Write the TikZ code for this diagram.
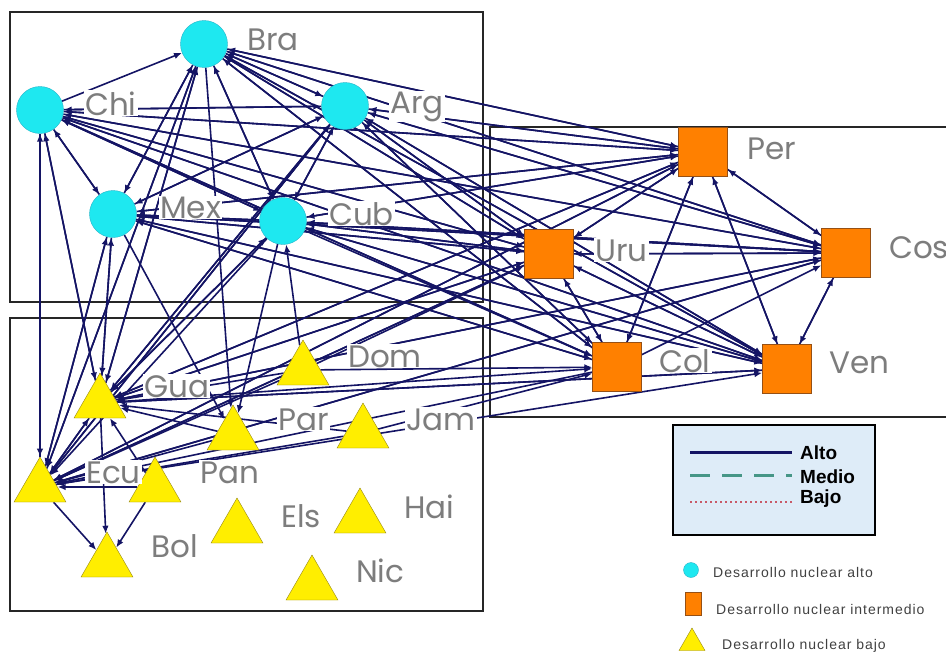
\documentclass[tikz,border=0pt]{standalone}
\usepackage{fontspec}
\setmainfont{Liberation Sans}
\newfontfamily\labfont{Poppins}
\newfontfamily\keyfont[LetterSpace=7]{Liberation Sans}
\usetikzlibrary{shapes.geometric,arrows.meta,backgrounds}
\definecolor{nodecyan}{RGB}{30,232,240}
\definecolor{cyanline}{RGB}{40,180,200}
\definecolor{nodeorange}{RGB}{255,128,0}
\definecolor{orangeline}{RGB}{150,80,20}
\definecolor{nodeyellow}{RGB}{255,238,0}
\definecolor{yellowline}{RGB}{150,135,20}
\definecolor{tiecolor}{RGB}{20,20,100}
\definecolor{labelgray}{RGB}{125,125,125}
\definecolor{keyfill}{RGB}{222,236,248}
\definecolor{keyteal}{RGB}{70,150,135}
\definecolor{keyred}{RGB}{200,90,105}
\begin{document}
\begin{tikzpicture}
    [x=1pt,y=-1pt,
    alto/.style={circle,draw=cyanline,fill=nodecyan,minimum size=47pt,inner sep=0pt},
    medio/.style={rectangle,draw=orangeline,fill=nodeorange,minimum size=49pt,inner sep=0pt},
    bajo/.style={regular polygon,regular polygon sides=3,draw=yellowline,fill=nodeyellow,minimum size=60pt,inner sep=0pt},
    lbl/.style={anchor=base west,fill=white,inner sep=1pt,text=labelgray,font=\labfont\fontsize{31}{31}\selectfont},
    tie/.style={draw=tiecolor,line width=1.6pt,-{Latex[length=8pt,width=6.5pt]}},
    box/.style={draw=black!85,line width=1.6pt},
    keytext/.style={anchor=base west,inner sep=0pt,font=\bfseries\fontsize{19}{19}\selectfont},
    desc/.style={anchor=base west,inner sep=0pt,text=black!75,font=\keyfont\fontsize{14}{14}\selectfont}]
    \useasboundingbox (0,0) rectangle (946,653);
    \node[alto] (bra) at (204,44) {};
    \node[alto] (chi) at (40,110) {};
    \node[alto] (arg) at (345,106) {};
    \node[alto] (mex) at (113,214) {};
    \node[alto] (cub) at (283,221) {};
    \node[medio] (per) at (703,152) {};
    \node[medio] (uru) at (549,254) {};
    \node[medio] (cos) at (846,253) {};
    \node[medio] (col) at (617,367) {};
    \node[medio] (ven) at (787,369) {};
    \node[bajo] (gua) at (100,403) {};
    \node[bajo] (dom) at (303,370) {};
    \node[bajo] (par) at (233,435) {};
    \node[bajo] (jam) at (363,433) {};
    \node[bajo] (ecu) at (40,487) {};
    \node[bajo] (pan) at (155,487) {};
    \node[bajo] (bol) at (107,562) {};
    \node[bajo] (els) at (237,528) {};
    \node[bajo] (hai) at (360,518) {};
    \node[bajo] (nic) at (312,585) {};
    \begin{pgfonlayer}{background}
      \draw[box] (10,12) rectangle (483,302);
      \draw[box] (10,318) rectangle (483,611);
      \draw[box] (490,127) rectangle (960,417);
      \foreach \a/\b in {chi/bra,chi/mex,mex/chi,chi/arg,chi/cub,bra/mex,bra/cub,bra/arg,
        arg/bra,arg/chi,arg/mex,arg/cub,mex/bra,mex/cub,mex/arg,cub/bra,cub/chi,cub/arg,cub/mex,
        chi/per,chi/uru,chi/cos,chi/ven,chi/col,bra/per,bra/uru,bra/cos,bra/ven,bra/col,
        arg/per,arg/uru,arg/cos,arg/ven,arg/col,mex/per,mex/uru,mex/cos,mex/ven,mex/col,
        cub/per,cub/uru,cub/cos,cub/ven,cub/col,
        per/chi,per/bra,per/arg,per/mex,per/cub,uru/chi,uru/bra,uru/arg,uru/mex,uru/cub,
        cos/chi,cos/bra,cos/arg,cos/mex,cos/cub,col/chi,col/bra,col/arg,col/mex,
        ven/chi,ven/bra,ven/arg,ven/cub,ven/mex,
        per/uru,uru/per,per/cos,cos/per,per/col,col/per,per/ven,ven/per,cos/ven,ven/cos,
        uru/cos,cos/uru,uru/col,col/uru,uru/ven,ven/uru,col/cos,
        gua/chi,gua/bra,gua/arg,gua/mex,gua/cub,gua/ecu,gua/bol,gua/per,gua/cos,gua/col,
        gua/uru,gua/ven,chi/gua,bra/gua,arg/gua,mex/gua,cub/gua,per/gua,uru/gua,ven/gua,
        ecu/chi,ecu/bra,ecu/arg,ecu/mex,ecu/bol,ecu/gua,ecu/per,ecu/cos,ecu/uru,ecu/ven,
        chi/ecu,bra/ecu,mex/ecu,arg/ecu,cub/ecu,cos/gua,per/ecu,uru/ecu,cos/ecu,col/ecu,
        par/ecu,par/gua,bra/par,mex/par,cub/par,pan/ecu,pan/bol,pan/gua,
        dom/ecu,dom/gua,dom/col,dom/cub,dom/uru,jam/col,jam/gua,jam/ecu}
        \draw[tie] (\a) -- (\b);
    \end{pgfonlayer}
    \node[lbl] (braL) at (246,50) {Bra};
    \node[lbl] (chiL) at (84,115) {Chi};
    \node[lbl] (argL) at (389,113) {Arg};
    \node[lbl] (mexL) at (159,218) {Mex};
    \node[lbl] (cubL) at (328,225) {Cub};
    \node[lbl] (perL) at (746,159) {Per};
    \node[lbl] (uruL) at (594,261) {Uru};
    \node[lbl] (cosL) at (888,258) {Cos};
    \node[lbl] (colL) at (658,372) {Col};
    \node[lbl] (venL) at (828,373) {Ven};
    \node[lbl] (guaL) at (143,397) {Gua};
    \node[lbl] (domL) at (347,367) {Dom};
    \node[lbl] (parL) at (277,430) {Par};
    \node[lbl] (jamL) at (405,430) {Jam};
    \node[lbl] (ecuL) at (85,483) {Ecu};
    \node[lbl] (panL) at (199,483) {Pan};
    \node[lbl] (bolL) at (150,557) {Bol};
    \node[lbl] (elsL) at (280,527) {Els};
    \node[lbl] (haiL) at (403,518) {Hai};
    \node[lbl] (nicL) at (355,582) {Nic};
    \draw[line width=1.8pt,fill=keyfill] (673,425) rectangle (875,535);
    \coordinate (altoA) at (690,452);
    \coordinate (altoB) at (792,452);
    \coordinate (medioA) at (690,475);
    \coordinate (medioB) at (792,475);
    \coordinate (bajoA) at (690,502);
    \coordinate (bajoB) at (792,502);
    \draw[tiecolor,line width=3pt] (altoA) -- (altoB);
    \draw[keyteal,line width=3pt,dash pattern=on 20pt off 12pt] (medioA) -- (medioB);
    \draw[keyred,line width=1.6pt,dash pattern=on 2pt off 3pt] (bajoA) -- (bajoB);
    \node[keytext] (altoT) at (800,459) {Alto};
    \node[keytext] (medioT) at (800,483) {Medio};
    \node[keytext] (bajoT) at (800,503) {Bajo};
    \node[circle,draw=cyanline,fill=nodecyan,minimum size=15pt,inner sep=0pt] (keyalto) at (691,570) {};
    \node[rectangle,draw=orangeline,fill=nodeorange,minimum width=16pt,minimum height=23pt,inner sep=0pt] (keymedio) at (693,604) {};
    \node[regular polygon,regular polygon sides=3,draw=yellowline,fill=nodeyellow,minimum size=30pt,inner sep=0pt] (keybajo) at (692,643) {};
    \node[desc] (altoD) at (713,577) {Desarrollo nuclear alto};
    \node[desc] (medioD) at (716,614) {Desarrollo nuclear intermedio};
    \node[desc] (bajoD) at (722,649) {Desarrollo nuclear bajo};
\end{tikzpicture}
\end{document}
